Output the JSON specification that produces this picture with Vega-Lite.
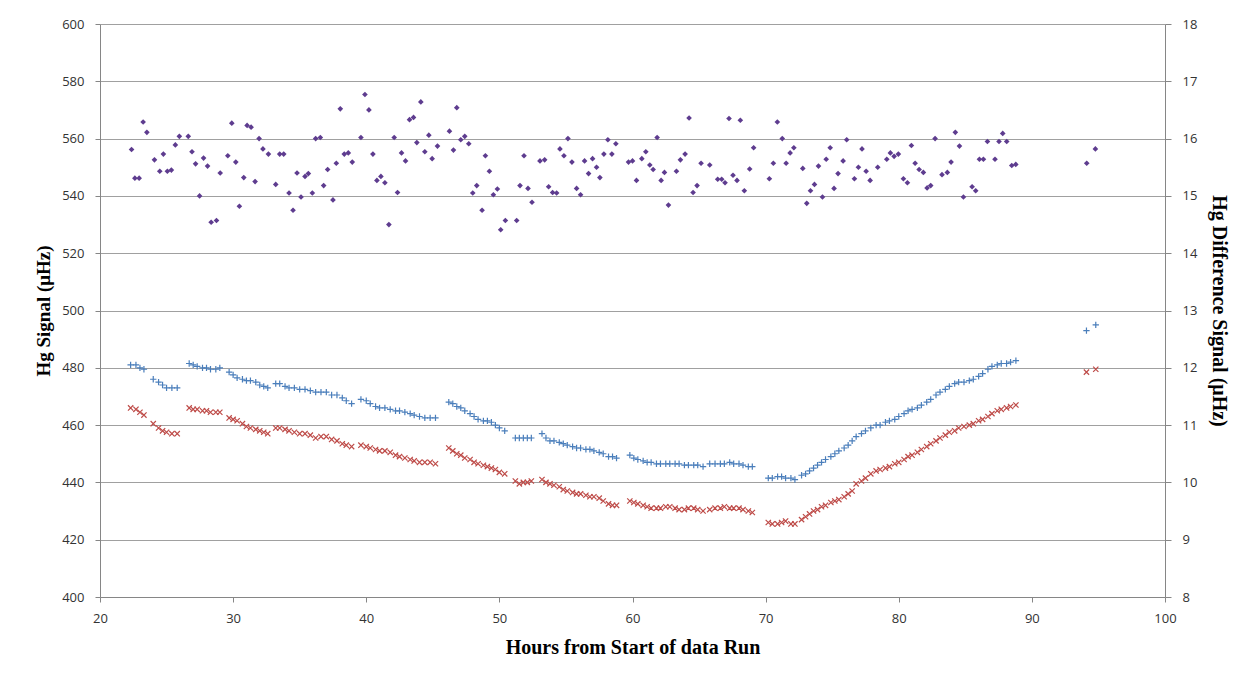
{
  "$schema": "https://vega.github.io/schema/vega-lite/v6.json",
  "width": 1065,
  "height": 573,
  "autosize": {"type": "none"},
  "padding": {"left": 100, "top": 24, "right": 83, "bottom": 78},
  "background": "white",
  "config": {
    "view": {"stroke": null},
    "axis": {
      "labelFont": "Open Sans",
      "labelFontSize": 13,
      "labelColor": "#333333",
      "labelFlush": false,
      "titleFont": "Liberation Serif",
      "titleFontSize": 20,
      "titleFontWeight": "bold",
      "titleColor": "#000000",
      "domainColor": "#868686",
      "tickColor": "#868686",
      "gridColor": "#a0a0a0",
      "gridOpacity": 1
    }
  },
  "datasets": {
    "sig": [
      {"h":22.3,"s":"A","v":481},{"h":22.7,"s":"A","v":481},{"h":23.0,"s":"A","v":480},{"h":23.3,"s":"A","v":479.5},
      {"h":24.0,"s":"A","v":476},{"h":24.4,"s":"A","v":475},{"h":24.7,"s":"A","v":474},{"h":25.0,"s":"A","v":473},{"h":25.4,"s":"A","v":473},{"h":25.8,"s":"A","v":473},
      {"h":26.7,"s":"A","v":481.5},{"h":27.0,"s":"A","v":481},{"h":27.3,"s":"A","v":480.5},{"h":27.7,"s":"A","v":480},{"h":28.0,"s":"A","v":480},{"h":28.3,"s":"A","v":479.5},{"h":28.7,"s":"A","v":479.5},{"h":29.0,"s":"A","v":480},
      {"h":29.7,"s":"A","v":478.5},{"h":30.0,"s":"A","v":477.5},{"h":30.3,"s":"A","v":476.5},{"h":30.7,"s":"A","v":476},{"h":31.0,"s":"A","v":475.5},{"h":31.3,"s":"A","v":475.5},{"h":31.7,"s":"A","v":475},{"h":32.0,"s":"A","v":474},{"h":32.3,"s":"A","v":473.5},{"h":32.6,"s":"A","v":473},
      {"h":33.2,"s":"A","v":474.5},{"h":33.5,"s":"A","v":474.5},{"h":33.9,"s":"A","v":473.5},{"h":34.2,"s":"A","v":473},{"h":34.6,"s":"A","v":473},{"h":35.0,"s":"A","v":472.5},{"h":35.4,"s":"A","v":472.5},{"h":35.8,"s":"A","v":472},{"h":36.2,"s":"A","v":471.5},{"h":36.6,"s":"A","v":471.5},{"h":37.0,"s":"A","v":471.5},{"h":37.4,"s":"A","v":470.5},{"h":37.8,"s":"A","v":470.5},{"h":38.2,"s":"A","v":469.5},{"h":38.5,"s":"A","v":468.5},{"h":38.9,"s":"A","v":467.5},
      {"h":39.6,"s":"A","v":469},{"h":40.0,"s":"A","v":468.5},{"h":40.3,"s":"A","v":467.5},{"h":40.7,"s":"A","v":466.5},{"h":41.0,"s":"A","v":466},{"h":41.4,"s":"A","v":466},{"h":41.8,"s":"A","v":465.5},{"h":42.2,"s":"A","v":465},{"h":42.5,"s":"A","v":465},{"h":42.9,"s":"A","v":464.5},{"h":43.3,"s":"A","v":464},{"h":43.6,"s":"A","v":463.5},{"h":44.0,"s":"A","v":463},{"h":44.4,"s":"A","v":462.5},{"h":44.8,"s":"A","v":462.5},{"h":45.2,"s":"A","v":462.5},
      {"h":46.2,"s":"A","v":468},{"h":46.5,"s":"A","v":467.5},{"h":46.8,"s":"A","v":466.5},{"h":47.1,"s":"A","v":466},{"h":47.4,"s":"A","v":465},{"h":47.8,"s":"A","v":464},{"h":48.1,"s":"A","v":463},{"h":48.4,"s":"A","v":462},{"h":48.8,"s":"A","v":461.5},{"h":49.1,"s":"A","v":461.5},{"h":49.4,"s":"A","v":461},{"h":49.7,"s":"A","v":460},{"h":50.0,"s":"A","v":459},{"h":50.4,"s":"A","v":458},
      {"h":51.2,"s":"A","v":455.5},{"h":51.5,"s":"A","v":455.5},{"h":51.8,"s":"A","v":455.5},{"h":52.1,"s":"A","v":455.5},{"h":52.4,"s":"A","v":455.5},
      {"h":53.2,"s":"A","v":457},{"h":53.5,"s":"A","v":455.5},{"h":53.8,"s":"A","v":454.5},{"h":54.1,"s":"A","v":454.5},{"h":54.5,"s":"A","v":454},{"h":54.8,"s":"A","v":453.5},{"h":55.1,"s":"A","v":453},{"h":55.5,"s":"A","v":452.5},{"h":55.8,"s":"A","v":452},{"h":56.1,"s":"A","v":452},{"h":56.5,"s":"A","v":451.5},{"h":56.8,"s":"A","v":451.5},{"h":57.1,"s":"A","v":451},{"h":57.5,"s":"A","v":450.5},{"h":57.8,"s":"A","v":450},{"h":58.2,"s":"A","v":449},{"h":58.5,"s":"A","v":449},{"h":58.8,"s":"A","v":448.5},
      {"h":59.8,"s":"A","v":449.5},{"h":60.1,"s":"A","v":448.5},{"h":60.4,"s":"A","v":448},{"h":60.8,"s":"A","v":447.5},{"h":61.1,"s":"A","v":447},{"h":61.4,"s":"A","v":447},{"h":61.8,"s":"A","v":446.5},{"h":62.1,"s":"A","v":446.5},{"h":62.5,"s":"A","v":446.5},{"h":62.8,"s":"A","v":446.5},{"h":63.2,"s":"A","v":446.5},{"h":63.5,"s":"A","v":446.5},{"h":63.9,"s":"A","v":446},{"h":64.2,"s":"A","v":446},{"h":64.6,"s":"A","v":446},{"h":64.9,"s":"A","v":446},{"h":65.3,"s":"A","v":445.5},
      {"h":65.8,"s":"A","v":446.5},{"h":66.2,"s":"A","v":446.5},{"h":66.6,"s":"A","v":446.5},{"h":66.9,"s":"A","v":446.5},{"h":67.3,"s":"A","v":447},{"h":67.6,"s":"A","v":446.5},{"h":68.0,"s":"A","v":446.5},{"h":68.3,"s":"A","v":446},{"h":68.7,"s":"A","v":445.5},{"h":69.0,"s":"A","v":445.5},
      {"h":70.2,"s":"A","v":441.5},{"h":70.5,"s":"A","v":441.5},{"h":70.9,"s":"A","v":442},{"h":71.2,"s":"A","v":442},{"h":71.5,"s":"A","v":441.5},{"h":71.9,"s":"A","v":441.5},{"h":72.2,"s":"A","v":441},
      {"h":72.7,"s":"A","v":442.5},{"h":73.0,"s":"A","v":443},{"h":73.3,"s":"A","v":444},{"h":73.6,"s":"A","v":445},{"h":73.9,"s":"A","v":446},{"h":74.2,"s":"A","v":447},{"h":74.5,"s":"A","v":448},{"h":74.9,"s":"A","v":449},{"h":75.2,"s":"A","v":450},{"h":75.5,"s":"A","v":451},{"h":75.9,"s":"A","v":452},{"h":76.2,"s":"A","v":453},{"h":76.5,"s":"A","v":454.5},{"h":76.8,"s":"A","v":456},{"h":77.2,"s":"A","v":457},{"h":77.5,"s":"A","v":458},{"h":77.9,"s":"A","v":459},{"h":78.3,"s":"A","v":460},{"h":78.6,"s":"A","v":460},{"h":79.0,"s":"A","v":461},{"h":79.3,"s":"A","v":461.5},{"h":79.7,"s":"A","v":462},{"h":80.0,"s":"A","v":463},{"h":80.4,"s":"A","v":464},{"h":80.7,"s":"A","v":465},{"h":81.0,"s":"A","v":465.5},{"h":81.4,"s":"A","v":466},{"h":81.7,"s":"A","v":467},{"h":82.1,"s":"A","v":468},{"h":82.4,"s":"A","v":469},{"h":82.8,"s":"A","v":470.5},{"h":83.1,"s":"A","v":471.5},{"h":83.5,"s":"A","v":472.5},{"h":83.8,"s":"A","v":473.5},{"h":84.2,"s":"A","v":474.5},{"h":84.5,"s":"A","v":475},{"h":84.9,"s":"A","v":475},{"h":85.3,"s":"A","v":475.5},{"h":85.6,"s":"A","v":476},{"h":86.0,"s":"A","v":477},{"h":86.3,"s":"A","v":478},{"h":86.7,"s":"A","v":479.5},{"h":87.0,"s":"A","v":480.5},{"h":87.4,"s":"A","v":481},{"h":87.7,"s":"A","v":481.5},{"h":88.1,"s":"A","v":481.5},{"h":88.4,"s":"A","v":482},{"h":88.8,"s":"A","v":482.5},
      {"h":94.1,"s":"A","v":493},{"h":94.8,"s":"A","v":495},
      {"h":22.3,"s":"B","v":466},{"h":22.7,"s":"B","v":465.5},{"h":23.0,"s":"B","v":464.5},{"h":23.3,"s":"B","v":463.5},
      {"h":24.0,"s":"B","v":460.5},{"h":24.4,"s":"B","v":459},{"h":24.7,"s":"B","v":458},{"h":25.0,"s":"B","v":457.5},{"h":25.4,"s":"B","v":457},{"h":25.8,"s":"B","v":457},
      {"h":26.7,"s":"B","v":466},{"h":27.0,"s":"B","v":465.5},{"h":27.3,"s":"B","v":465.5},{"h":27.7,"s":"B","v":465},{"h":28.0,"s":"B","v":465},{"h":28.3,"s":"B","v":464.5},{"h":28.7,"s":"B","v":464.5},{"h":29.0,"s":"B","v":464.5},
      {"h":29.7,"s":"B","v":462.5},{"h":30.0,"s":"B","v":462},{"h":30.3,"s":"B","v":461.5},{"h":30.7,"s":"B","v":460.5},{"h":31.0,"s":"B","v":459.5},{"h":31.3,"s":"B","v":459},{"h":31.7,"s":"B","v":458.5},{"h":32.0,"s":"B","v":458},{"h":32.3,"s":"B","v":457.5},{"h":32.6,"s":"B","v":457},
      {"h":33.2,"s":"B","v":459},{"h":33.5,"s":"B","v":459},{"h":33.9,"s":"B","v":458.5},{"h":34.2,"s":"B","v":458},{"h":34.6,"s":"B","v":457.5},{"h":35.0,"s":"B","v":457},{"h":35.4,"s":"B","v":457},{"h":35.8,"s":"B","v":456.5},{"h":36.2,"s":"B","v":455.5},{"h":36.6,"s":"B","v":456},{"h":37.0,"s":"B","v":456},{"h":37.4,"s":"B","v":455},{"h":37.8,"s":"B","v":454.5},{"h":38.2,"s":"B","v":453.5},{"h":38.5,"s":"B","v":453},{"h":38.9,"s":"B","v":452.5},
      {"h":39.6,"s":"B","v":453},{"h":40.0,"s":"B","v":452.5},{"h":40.3,"s":"B","v":452},{"h":40.7,"s":"B","v":451.5},{"h":41.0,"s":"B","v":451},{"h":41.4,"s":"B","v":451},{"h":41.8,"s":"B","v":450.5},{"h":42.2,"s":"B","v":449.5},{"h":42.5,"s":"B","v":449},{"h":42.9,"s":"B","v":448.5},{"h":43.3,"s":"B","v":448},{"h":43.6,"s":"B","v":447.5},{"h":44.0,"s":"B","v":447},{"h":44.4,"s":"B","v":447},{"h":44.8,"s":"B","v":447},{"h":45.2,"s":"B","v":446.5},
      {"h":46.2,"s":"B","v":452},{"h":46.5,"s":"B","v":451},{"h":46.8,"s":"B","v":450},{"h":47.1,"s":"B","v":449.5},{"h":47.4,"s":"B","v":448.5},{"h":47.8,"s":"B","v":448},{"h":48.1,"s":"B","v":447},{"h":48.4,"s":"B","v":446.5},{"h":48.8,"s":"B","v":446},{"h":49.1,"s":"B","v":445.5},{"h":49.4,"s":"B","v":445},{"h":49.7,"s":"B","v":444.5},{"h":50.0,"s":"B","v":443.5},{"h":50.4,"s":"B","v":443},
      {"h":51.2,"s":"B","v":440.5},{"h":51.5,"s":"B","v":439.5},{"h":51.8,"s":"B","v":440},{"h":52.1,"s":"B","v":440},{"h":52.4,"s":"B","v":440.5},
      {"h":53.2,"s":"B","v":441},{"h":53.5,"s":"B","v":440},{"h":53.8,"s":"B","v":439.5},{"h":54.1,"s":"B","v":439},{"h":54.5,"s":"B","v":438.5},{"h":54.8,"s":"B","v":437.5},{"h":55.1,"s":"B","v":437},{"h":55.5,"s":"B","v":436.5},{"h":55.8,"s":"B","v":436},{"h":56.1,"s":"B","v":436},{"h":56.5,"s":"B","v":435.5},{"h":56.8,"s":"B","v":435},{"h":57.1,"s":"B","v":435},{"h":57.5,"s":"B","v":434.5},{"h":57.8,"s":"B","v":433.5},{"h":58.2,"s":"B","v":432.5},{"h":58.5,"s":"B","v":432},{"h":58.8,"s":"B","v":432},
      {"h":59.8,"s":"B","v":433.5},{"h":60.1,"s":"B","v":433},{"h":60.4,"s":"B","v":432.5},{"h":60.8,"s":"B","v":432},{"h":61.1,"s":"B","v":431.5},{"h":61.4,"s":"B","v":431},{"h":61.8,"s":"B","v":431},{"h":62.1,"s":"B","v":431},{"h":62.5,"s":"B","v":431.5},{"h":62.8,"s":"B","v":431.5},{"h":63.2,"s":"B","v":431},{"h":63.5,"s":"B","v":430.5},{"h":63.9,"s":"B","v":430.5},{"h":64.2,"s":"B","v":431},{"h":64.6,"s":"B","v":431},{"h":64.9,"s":"B","v":430.5},{"h":65.3,"s":"B","v":430},
      {"h":65.8,"s":"B","v":430.5},{"h":66.2,"s":"B","v":431},{"h":66.6,"s":"B","v":431},{"h":66.9,"s":"B","v":431.5},{"h":67.3,"s":"B","v":431},{"h":67.6,"s":"B","v":431},{"h":68.0,"s":"B","v":431},{"h":68.3,"s":"B","v":430.5},{"h":68.7,"s":"B","v":430},{"h":69.0,"s":"B","v":429.5},
      {"h":70.2,"s":"B","v":426},{"h":70.5,"s":"B","v":425.5},{"h":70.9,"s":"B","v":425.5},{"h":71.2,"s":"B","v":426},{"h":71.5,"s":"B","v":426.5},{"h":71.9,"s":"B","v":425.5},{"h":72.2,"s":"B","v":425.5},
      {"h":72.7,"s":"B","v":427},{"h":73.0,"s":"B","v":428},{"h":73.3,"s":"B","v":429},{"h":73.6,"s":"B","v":430},{"h":73.9,"s":"B","v":430.5},{"h":74.2,"s":"B","v":431.5},{"h":74.5,"s":"B","v":432},{"h":74.9,"s":"B","v":433},{"h":75.2,"s":"B","v":433.5},{"h":75.5,"s":"B","v":434},{"h":75.9,"s":"B","v":435},{"h":76.2,"s":"B","v":436},{"h":76.5,"s":"B","v":437},{"h":76.8,"s":"B","v":439.5},{"h":77.2,"s":"B","v":440.5},{"h":77.5,"s":"B","v":441.5},{"h":77.9,"s":"B","v":443},{"h":78.3,"s":"B","v":444},{"h":78.6,"s":"B","v":444.5},{"h":79.0,"s":"B","v":445},{"h":79.3,"s":"B","v":445.5},{"h":79.7,"s":"B","v":446.5},{"h":80.0,"s":"B","v":447},{"h":80.4,"s":"B","v":448},{"h":80.7,"s":"B","v":449},{"h":81.0,"s":"B","v":449.5},{"h":81.4,"s":"B","v":450.5},{"h":81.7,"s":"B","v":451.5},{"h":82.1,"s":"B","v":452.5},{"h":82.4,"s":"B","v":453.5},{"h":82.8,"s":"B","v":454.5},{"h":83.1,"s":"B","v":455.5},{"h":83.5,"s":"B","v":456.5},{"h":83.8,"s":"B","v":457.5},{"h":84.2,"s":"B","v":458},{"h":84.5,"s":"B","v":459},{"h":84.9,"s":"B","v":459.5},{"h":85.3,"s":"B","v":460},{"h":85.6,"s":"B","v":460.5},{"h":86.0,"s":"B","v":461.5},{"h":86.3,"s":"B","v":462},{"h":86.7,"s":"B","v":463},{"h":87.0,"s":"B","v":464},{"h":87.4,"s":"B","v":465},{"h":87.7,"s":"B","v":465.5},{"h":88.1,"s":"B","v":466},{"h":88.4,"s":"B","v":466.5},{"h":88.8,"s":"B","v":467},
      {"h":94.1,"s":"B","v":478.5},{"h":94.8,"s":"B","v":479.5}
    ],
    "diff": [
      {"h":22.37,"d":15.81},{"h":22.62,"d":15.31},{"h":22.94,"d":15.31},{"h":23.24,"d":16.29},{"h":23.52,"d":16.11},{"h":24.09,"d":15.63},{"h":24.49,"d":15.43},{"h":24.76,"d":15.73},{"h":25.06,"d":15.43},{"h":25.36,"d":15.45},{"h":25.66,"d":15.89},{"h":25.96,"d":16.04},{"h":26.63,"d":16.04},{"h":26.91,"d":15.77},{"h":27.18,"d":15.56},{"h":27.48,"d":15.0},{"h":27.78,"d":15.66},{"h":28.08,"d":15.52},{"h":28.35,"d":14.54},{"h":28.75,"d":14.57},{"h":29.03,"d":15.4},{"h":29.6,"d":15.7},{"h":29.9,"d":16.27},{"h":30.2,"d":15.59},{"h":30.47,"d":14.82},{"h":30.8,"d":15.32},{"h":31.05,"d":16.23},{"h":31.35,"d":16.2},{"h":31.65,"d":15.25},{"h":31.95,"d":16.0},{"h":32.24,"d":15.82},{"h":32.65,"d":15.73},
      {"h":33.2,"d":15.2},{"h":33.5,"d":15.73},{"h":33.8,"d":15.73},{"h":34.2,"d":15.05},{"h":34.5,"d":14.75},{"h":34.8,"d":15.4},{"h":35.1,"d":14.98},{"h":35.4,"d":15.34},{"h":35.65,"d":15.39},{"h":35.95,"d":15.05},{"h":36.2,"d":16.0},{"h":36.55,"d":16.02},{"h":36.8,"d":15.18},{"h":37.1,"d":15.46},{"h":37.5,"d":14.93},{"h":37.75,"d":15.57},{"h":38.05,"d":16.52},{"h":38.35,"d":15.73},{"h":38.65,"d":15.75},{"h":38.95,"d":15.59},{"h":39.6,"d":16.02},{"h":39.9,"d":16.77},{"h":40.2,"d":16.5},{"h":40.5,"d":15.73},{"h":40.8,"d":15.27},{"h":41.1,"d":15.34},{"h":41.4,"d":15.23},{"h":41.7,"d":14.5},{"h":42.1,"d":16.02},{"h":42.35,"d":15.06},{"h":42.65,"d":15.75},{"h":42.95,"d":15.61},{"h":43.25,"d":16.33},{"h":43.55,"d":16.37},{"h":43.8,"d":15.93},{"h":44.1,"d":16.64},
      {"h":44.4,"d":15.77},{"h":44.7,"d":16.06},{"h":44.95,"d":15.65},{"h":45.35,"d":15.87},{"h":46.25,"d":16.13},{"h":46.55,"d":15.8},{"h":46.8,"d":16.54},{"h":47.1,"d":15.98},{"h":47.4,"d":16.04},{"h":47.7,"d":15.91},{"h":48.0,"d":15.05},{"h":48.3,"d":15.18},{"h":48.7,"d":14.75},{"h":48.95,"d":15.7},{"h":49.25,"d":15.43},{"h":49.55,"d":15.02},{"h":49.85,"d":15.12},{"h":50.1,"d":14.41},{"h":50.45,"d":14.57},{"h":51.3,"d":14.57},{"h":51.55,"d":15.18},{"h":51.85,"d":15.7},{"h":52.15,"d":15.13},{"h":52.45,"d":14.89},{"h":53.05,"d":15.61},{"h":53.4,"d":15.63},{"h":53.7,"d":15.16},{"h":54.0,"d":15.06},{"h":54.3,"d":15.05},{"h":54.55,"d":15.82},{"h":54.85,"d":15.7},{"h":55.15,"d":16.0},{"h":55.45,"d":15.59},{"h":55.8,"d":15.13},{"h":56.1,"d":15.02},{"h":56.4,"d":15.61},{"h":56.7,"d":15.39},{"h":57.0,"d":15.65},{"h":57.3,"d":15.5},{"h":57.55,"d":15.32},{"h":57.85,"d":15.73},{"h":58.15,"d":15.98},{"h":58.45,"d":15.73},{"h":58.75,"d":15.91},
      {"h":59.7,"d":15.59},{"h":60.0,"d":15.61},{"h":60.3,"d":15.27},{"h":60.7,"d":15.65},{"h":61.0,"d":15.77},{"h":61.3,"d":15.54},{"h":61.55,"d":15.46},{"h":61.85,"d":16.02},{"h":62.15,"d":15.27},{"h":62.4,"d":15.41},{"h":62.7,"d":14.84},{"h":63.3,"d":15.43},{"h":63.6,"d":15.63},{"h":63.95,"d":15.73},{"h":64.25,"d":16.36},{"h":64.55,"d":15.06},{"h":64.85,"d":15.18},{"h":65.15,"d":15.57},{"h":65.8,"d":15.54},{"h":66.4,"d":15.29},{"h":66.7,"d":15.29},{"h":66.95,"d":15.23},{"h":67.25,"d":16.35},{"h":67.55,"d":15.36},{"h":67.85,"d":15.27},{"h":68.1,"d":16.32},{"h":68.4,"d":15.09},{"h":68.8,"d":15.47},{"h":69.1,"d":15.84},
      {"h":70.28,"d":15.3},{"h":70.58,"d":15.57},{"h":70.88,"d":16.29},{"h":71.25,"d":16.0},{"h":71.54,"d":15.57},{"h":71.84,"d":15.75},{"h":72.12,"d":15.84},{"h":72.79,"d":15.48},{"h":73.09,"d":14.87},{"h":73.37,"d":15.09},{"h":73.67,"d":15.2},{"h":73.97,"d":15.52},{"h":74.27,"d":14.98},{"h":74.55,"d":15.64},{"h":74.85,"d":15.84},{"h":75.14,"d":15.13},{"h":75.44,"d":15.39},{"h":75.82,"d":15.61},{"h":76.09,"d":15.98},{"h":76.67,"d":15.3},{"h":76.97,"d":15.5},{"h":77.24,"d":15.82},{"h":77.55,"d":15.43},{"h":77.85,"d":15.27},{"h":78.42,"d":15.5},{"h":79.1,"d":15.64},{"h":79.37,"d":15.75},{"h":79.65,"d":15.69},{"h":79.97,"d":15.73},{"h":80.35,"d":15.3},{"h":80.65,"d":15.23},{"h":80.95,"d":15.88},{"h":81.23,"d":15.57},{"h":81.53,"d":15.46},{"h":81.85,"d":15.41},{"h":82.13,"d":15.14},{"h":82.4,"d":15.18},{"h":82.73,"d":16.0},{"h":83.25,"d":15.37},{"h":83.65,"d":15.41},{"h":83.93,"d":15.59},{"h":84.25,"d":16.11},{"h":84.56,"d":15.87},{"h":84.86,"d":14.98},{"h":85.51,"d":15.16},{"h":85.78,"d":15.09},{"h":86.06,"d":15.64},{"h":86.36,"d":15.64},{"h":86.66,"d":15.95},{"h":87.23,"d":15.64},{"h":87.53,"d":15.95},{"h":87.81,"d":16.09},{"h":88.11,"d":15.95},{"h":88.49,"d":15.53},{"h":88.79,"d":15.55},
      {"h":94.12,"d":15.57},{"h":94.77,"d":15.82}
    ]
  },
  "encoding": {
    "x": {
      "field": "h", "type": "quantitative",
      "scale": {"domain": [20, 100], "nice": false, "zero": false, "padding": 0},
      "axis": {
        "values": [20, 30, 40, 50, 60, 70, 80, 90, 100],
        "title": "Hours from Start of data Run",
        "tickSize": 5, "labelPadding": 10, "titlePadding": 12, "grid": false
      }
    }
  },
  "layer": [
    {
      "data": {"name": "sig"},
      "mark": {"type": "point", "filled": false, "strokeWidth": 1.2, "opacity": 1},
      "encoding": {
        "y": {
          "field": "v", "type": "quantitative",
          "scale": {"domain": [400, 600], "nice": false, "zero": false, "padding": 0},
          "axis": {
            "orient": "left",
            "values": [400, 420, 440, 460, 480, 500, 520, 540, 560, 580, 600],
            "title": "Hg Signal (μHz)",
            "titleFontSize": 19,
            "grid": true, "tickSize": 5, "labelPadding": 11, "titlePadding": 8
          }
        },
        "shape": {
          "field": "s", "type": "nominal", "legend": null,
          "scale": {"domain": ["A", "B"], "range": ["M-1,0L1,0M0,-1L0,1", "M-1,-1L1,1M-1,1L1,-1"]}
        },
        "color": {
          "field": "s", "type": "nominal", "legend": null,
          "scale": {"domain": ["A", "B"], "range": ["#4a7ebb", "#be4b48"]}
        },
        "size": {
          "field": "s", "type": "nominal", "legend": null,
          "scale": {"domain": ["A", "B"], "range": [40, 28]}
        }
      }
    },
    {
      "data": {"name": "diff"},
      "mark": {"type": "point", "shape": "diamond", "filled": true, "color": "#5e3c8f", "size": 32, "opacity": 1},
      "encoding": {
        "y": {
          "field": "d", "type": "quantitative",
          "scale": {"domain": [8, 18], "nice": false, "zero": false, "padding": 0},
          "axis": {
            "orient": "right",
            "values": [8, 9, 10, 11, 12, 13, 14, 15, 16, 17, 18],
            "title": "Hg Difference Signal (μHz)",
            "grid": false, "tickSize": 6, "labelPadding": 11, "titlePadding": 12
          }
        }
      }
    }
  ],
  "resolve": {"scale": {"y": "independent", "shape": "independent", "color": "independent", "size": "independent"}}
}
